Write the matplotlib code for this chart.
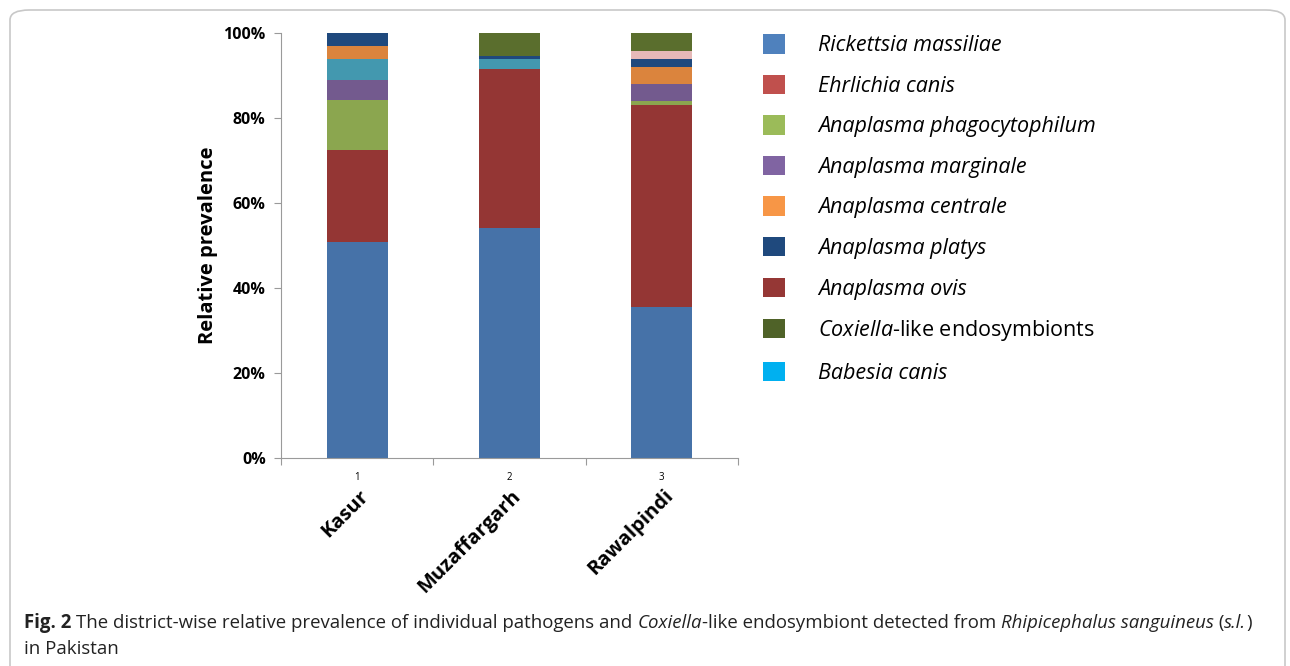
import matplotlib
matplotlib.use("Agg")
import matplotlib.pyplot as plt
from matplotlib.patches import FancyBboxPatch, Patch
from matplotlib.ticker import PercentFormatter

plt.rcParams['font.family'] = ['Open Sans', 'DejaVu Sans']
plt.rcParams['mathtext.fontset'] = 'custom'
plt.rcParams['mathtext.it'] = 'Open Sans:italic'
plt.rcParams['mathtext.rm'] = 'Open Sans'

# data (percent of each district), stacked bottom -> top
districts = ["Kasur", "Muzaffargarh", "Rawalpindi"]
rickettsia = [50.9, 54.1, 35.5]
ovis = [21.5, 37.4, 47.6]
phago = [11.8, 0.0, 0.9]
marginale = [4.8, 0.0, 4.1]
babesia = [5.0, 2.3, 0.0]
centrale = [2.9, 0.0, 3.9]
platys = [3.1, 0.8, 1.9]
ehrlichia = [0.0, 0.0, 1.9]
coxiella = [0.0, 5.4, 4.2]

series = [rickettsia, ovis, phago, marginale, babesia, centrale, platys, ehrlichia, coxiella]
bar_colors = ["#4672a8", "#943634", "#8ba64f", "#735a8e", "#4398af",
              "#db843d", "#1f497d", "#e6b9b8", "#5a6e2d"]

legend_labels = ["Rickettsia massiliae", "Ehrlichia canis", "Anaplasma phagocytophilum",
                 "Anaplasma marginale", "Anaplasma centrale", "Anaplasma platys",
                 "Anaplasma ovis", r"$\it{Coxiella}$-like endosymbionts", "Babesia canis"]
legend_colors = ["#4f81bd", "#c0504d", "#9bbb59", "#8064a2", "#f79646",
                 "#1f497d", "#953735", "#4f6228", "#00b0f0"]

fig = plt.figure(figsize=(12.9, 6.66), dpi=100)
ax = fig.add_axes([281 / 1290, 1 - 458 / 666, 457 / 1290, 425 / 666])

x = [1, 2, 3]
bottom = [0.0, 0.0, 0.0]
for vals, c in zip(series, bar_colors):
    ax.bar(x, vals, width=0.4, bottom=bottom, color=c, edgecolor="none")
    bottom = [b + v for b, v in zip(bottom, vals)]

ax.set_xlim(0.5, 3.5)
ax.set_ylim(0, 100)
ax.set_yticks([0, 20, 40, 60, 80, 100])
ax.yaxis.set_major_formatter(PercentFormatter(decimals=0))
for lab in ax.get_yticklabels():
    lab.set_fontweight("bold")
    lab.set_fontsize(11.5)
ax.set_xticks([0.5, 1.5, 2.5, 3.5])
ax.set_xticklabels([])
ax.set_xticks(x, minor=True)
ax.set_xticklabels(["1", "2", "3"], minor=True, fontsize=7)
ax.tick_params(axis="x", which="minor", length=0, pad=10)
ax.tick_params(axis="x", which="major", length=5, color="#9a9a9a")
ax.tick_params(axis="y", length=5, color="#9a9a9a", pad=6)
for s in ["top", "right"]:
    ax.spines[s].set_visible(False)
for s in ["left", "bottom"]:
    ax.spines[s].set_color("#9a9a9a")
ax.set_ylabel("Relative prevalence", fontsize=14.5, fontweight="bold", labelpad=4)

# rotated district names
for xi, name in zip(x, districts):
    ax.text(xi + 0.01, -6.6, name, rotation=45, rotation_mode="anchor",
            ha="right", va="top", fontsize=14.5, fontweight="bold", clip_on=False)

# legend
handles = [Patch(facecolor=c, edgecolor="none") for c in legend_colors]
leg = fig.legend(handles, legend_labels, loc="upper left",
                 bbox_to_anchor=(744 / 1290, 1 - 15 / 666), frameon=False,
                 fontsize=15.5, handlelength=1.0, handleheight=1.0,
                 handletextpad=1.55, labelspacing=0.86)
for t in leg.get_texts():
    if "Coxiella" not in t.get_text():
        t.set_fontstyle("italic")

# caption with mixed styles
fig.canvas.draw()
r = fig.canvas.get_renderer()


def write_line(parts, x0, y0):
    xp = x0
    for txt, kw in parts:
        t = fig.text(xp / 1290, y0 / 666, txt, fontsize=13.4, color="#222222", va="baseline", **kw)
        fig.canvas.draw()
        xp = t.get_window_extent(r).x1
    return xp


write_line([("Fig. 2 ", {"fontweight": "bold"}),
            ("The district-wise relative prevalence of individual pathogens and ", {}),
            ("Coxiella", {"fontstyle": "italic"}),
            ("-like endosymbiont detected from ", {}),
            ("Rhipicephalus sanguineus", {"fontstyle": "italic"}),
            (" (", {}), ("s.l.", {"fontstyle": "italic"}), (")", {})],
           24, 666 - 628)
write_line([("in Pakistan", {})], 24, 666 - 654)

# rounded frame around the figure
frame = FancyBboxPatch((10 / 1290, -0.05), 1275 / 1290, (666 - 10) / 666 + 0.05,
                       boxstyle="round,pad=0,rounding_size=0.015",
                       transform=fig.transFigure, fill=False,
                       edgecolor="#c8c8c8", linewidth=1.2)
fig.patches.append(frame)

fig.savefig("out.png", dpi=100)
